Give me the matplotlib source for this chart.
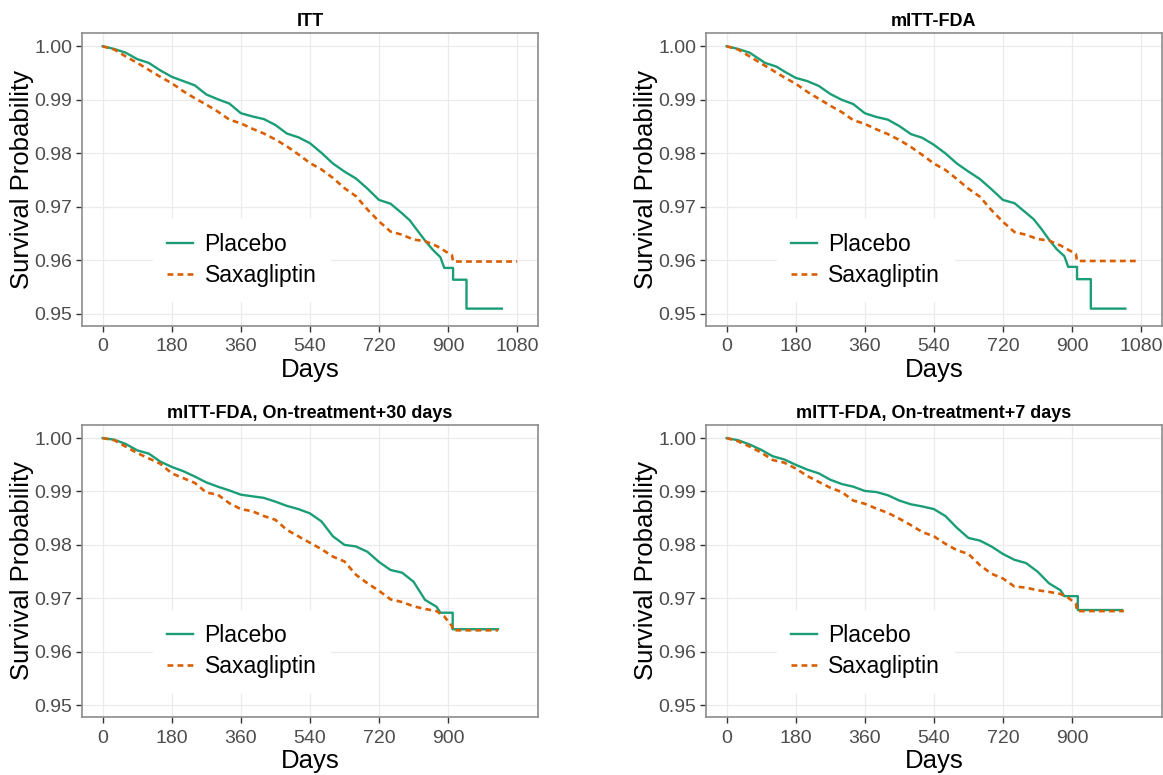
import numpy as np
import matplotlib.pyplot as plt

plt.rcParams['font.family'] = ['Liberation Sans', 'DejaVu Sans']

# Kaplan-Meier estimates (day, survival)
itt_pbo_days = [0, 30, 60, 90, 120, 150, 180, 210, 240, 270, 300, 330, 360, 390, 420, 450, 480, 510, 540,
                570, 600, 630, 660, 690, 720, 750, 780, 800, 820, 840, 860, 880, 890, 913, 913, 948, 948, 1040]
itt_pbo_surv = [1.0, 0.9995, 0.9988, 0.9976, 0.9969, 0.9955, 0.9943, 0.9935, 0.9927, 0.9910, 0.9901, 0.9893,
                0.9875, 0.9869, 0.9864, 0.9853, 0.9837, 0.9830, 0.9819, 0.9801, 0.9781, 0.9766, 0.9753, 0.9734,
                0.9713, 0.9706, 0.9688, 0.9675, 0.9656, 0.9637, 0.9620, 0.9606, 0.9586, 0.9586, 0.9564, 0.9564,
                0.9510, 0.9510]
itt_saxa_days = [0, 30, 60, 90, 120, 150, 180, 210, 240, 270, 300, 330, 360, 390, 420, 450, 480, 510, 540,
                 570, 600, 630, 660, 690, 720, 750, 780, 810, 840, 870, 900, 910, 913, 1080]
itt_saxa_surv = [1.0, 0.9994, 0.9981, 0.9969, 0.9956, 0.9943, 0.9931, 0.9916, 0.9903, 0.9891, 0.9878, 0.9863,
                 0.9856, 0.9846, 0.9837, 0.9826, 0.9813, 0.9798, 0.9782, 0.9770, 0.9754, 0.9735, 0.9720, 0.9695,
                 0.9673, 0.9654, 0.9648, 0.9639, 0.9636, 0.9627, 0.9614, 0.9610, 0.9598, 0.9598]

mitt_pbo_days = [0, 30, 60, 100, 130, 150, 180, 210, 240, 270, 300, 330, 360, 390, 420, 450, 480, 510, 540,
                 570, 600, 630, 660, 690, 720, 750, 780, 800, 820, 840, 860, 880, 890, 913, 913, 949, 949, 1039]
mitt_pbo_surv = [1.0, 0.9995, 0.9988, 0.9969, 0.9962, 0.9953, 0.9941, 0.9935, 0.9926, 0.9911, 0.9900, 0.9892,
                 0.9875, 0.9868, 0.9863, 0.9851, 0.9836, 0.9829, 0.9816, 0.9800, 0.9781, 0.9766, 0.9752, 0.9733,
                 0.9713, 0.9707, 0.9689, 0.9677, 0.9659, 0.9639, 0.9621, 0.9608, 0.9588, 0.9588, 0.9565, 0.9565,
                 0.9510, 0.9510]
mitt_saxa_days = [0, 30, 60, 90, 120, 150, 180, 210, 240, 270, 300, 330, 360, 390, 420, 450, 480, 510, 540,
                  570, 600, 630, 660, 690, 720, 750, 780, 810, 840, 870, 900, 910, 913, 1075]
mitt_saxa_surv = [1.0, 0.9994, 0.9981, 0.9968, 0.9955, 0.9942, 0.9930, 0.9915, 0.9902, 0.9889, 0.9877, 0.9862,
                  0.9855, 0.9845, 0.9836, 0.9825, 0.9812, 0.9797, 0.9781, 0.9769, 0.9752, 0.9734, 0.9719, 0.9694,
                  0.9672, 0.9653, 0.9648, 0.9640, 0.9637, 0.9628, 0.9616, 0.9612, 0.9599, 0.9599]

ot30_pbo_days = [0, 30, 60, 90, 120, 150, 180, 210, 240, 270, 300, 330, 360, 390, 420, 450, 480, 510, 540,
                 570, 600, 630, 660, 690, 720, 750, 780, 810, 840, 870, 880, 912, 912, 1030]
ot30_pbo_surv = [1.0, 0.9997, 0.9989, 0.9977, 0.9971, 0.9956, 0.9946, 0.9938, 0.9928, 0.9917, 0.9909, 0.9902,
                 0.9894, 0.9891, 0.9888, 0.9881, 0.9873, 0.9867, 0.9859, 0.9844, 0.9816, 0.9800, 0.9797, 0.9787,
                 0.9768, 0.9753, 0.9748, 0.9731, 0.9697, 0.9684, 0.9673, 0.9673, 0.9642, 0.9642]
ot30_saxa_days = [0, 30, 60, 90, 120, 150, 180, 210, 240, 270, 300, 330, 360, 390, 420, 450, 480, 510, 540,
                  570, 600, 630, 660, 690, 720, 750, 780, 810, 840, 870, 890, 910, 912, 1030]
ot30_saxa_surv = [1.0, 0.9996, 0.9984, 0.9972, 0.9962, 0.9952, 0.9934, 0.9925, 0.9916, 0.9898, 0.9894, 0.9878,
                  0.9867, 0.9863, 0.9854, 0.9847, 0.9828, 0.9816, 0.9804, 0.9792, 0.9778, 0.9769, 0.9744, 0.9728,
                  0.9714, 0.9698, 0.9693, 0.9685, 0.9680, 0.9676, 0.9666, 0.9648, 0.9640, 0.9640]

ot7_pbo_days = [0, 30, 60, 90, 120, 150, 180, 210, 240, 270, 300, 330, 360, 390, 420, 450, 480, 510, 540,
                570, 600, 630, 660, 690, 720, 750, 780, 810, 840, 870, 880, 915, 915, 1030]
ot7_pbo_surv = [1.0, 0.9996, 0.9988, 0.9978, 0.9966, 0.9960, 0.9950, 0.9941, 0.9934, 0.9922, 0.9914, 0.9909,
                0.9901, 0.9899, 0.9893, 0.9883, 0.9876, 0.9872, 0.9867, 0.9854, 0.9832, 0.9813, 0.9808, 0.9797,
                0.9783, 0.9772, 0.9766, 0.9750, 0.9728, 0.9715, 0.9704, 0.9704, 0.9678, 0.9678]
ot7_saxa_days = [0, 30, 60, 90, 120, 150, 180, 210, 240, 270, 300, 330, 360, 390, 420, 450, 480, 510, 540,
                 570, 600, 630, 660, 690, 720, 750, 780, 810, 840, 870, 890, 910, 913, 1035]
ot7_saxa_surv = [1.0, 0.9994, 0.9984, 0.9973, 0.9959, 0.9954, 0.9943, 0.9929, 0.9918, 0.9907, 0.9899, 0.9883,
                 0.9877, 0.9868, 0.9860, 0.9849, 0.9837, 0.9824, 0.9816, 0.9802, 0.9790, 0.9783, 0.9762, 0.9746,
                 0.9737, 0.9722, 0.9720, 0.9715, 0.9712, 0.9708, 0.9701, 0.9690, 0.9676, 0.9676]

titles = ["ITT", "mITT-FDA", "mITT-FDA, On-treatment+30 days", "mITT-FDA, On-treatment+7 days"]
x_ticks_top = [0, 180, 360, 540, 720, 900, 1080]
x_ticks_bottom = [0, 180, 360, 540, 720, 900]
y_ticks = [0.95, 0.96, 0.97, 0.98, 0.99, 1.00]

panels = [
    (itt_pbo_days, itt_pbo_surv, itt_saxa_days, itt_saxa_surv, x_ticks_top),
    (mitt_pbo_days, mitt_pbo_surv, mitt_saxa_days, mitt_saxa_surv, x_ticks_top),
    (ot30_pbo_days, ot30_pbo_surv, ot30_saxa_days, ot30_saxa_surv, x_ticks_bottom),
    (ot7_pbo_days, ot7_pbo_surv, ot7_saxa_days, ot7_saxa_surv, x_ticks_bottom),
]

green = "#1B9E77"
orange = "#D95F02"

fig = plt.figure(figsize=(11.63, 7.75), dpi=100)
boxes = [
    [0.0705, 0.5794, 0.392, 0.378],
    [0.607, 0.5794, 0.392, 0.378],
    [0.0705, 0.0748, 0.392, 0.377],
    [0.607, 0.0748, 0.392, 0.377],
]

for box, title, (pd_, ps, sd, ss, xt) in zip(boxes, titles, panels):
    ax = fig.add_axes(box)
    ax.plot(pd_, ps, color=green, lw=1.7, label="Placebo")
    ax.plot(sd, ss, color=orange, lw=1.9, ls=(0, (2.2, 1.6)), label="Saxagliptin")
    ax.set_xlim(-54, 1134)
    ax.set_ylim(0.94776, 1.00248)
    ax.set_xticks(xt)
    ax.set_yticks(y_ticks)
    ax.set_yticklabels([f"{v:.2f}" for v in y_ticks])
    ax.grid(True, color="#EBEBEB", lw=0.9)
    ax.set_axisbelow(True)
    for s in ax.spines.values():
        s.set_color("#8C8C8C")
        s.set_linewidth(1.2)
    ax.tick_params(direction="out", length=4, width=1, color="#333333",
                   labelsize=14, labelcolor="#4D4D4D")
    ax.tick_params(axis="x", pad=5)
    ax.tick_params(axis="y", pad=3)
    ax.set_title(title, fontsize=13, fontweight="bold", pad=5)
    ax.set_xlabel("Days", fontsize=18.5, labelpad=2)
    ax.set_ylabel("Survival Probability", fontsize=18.5, labelpad=0)
    leg = ax.legend(loc="center", bbox_to_anchor=(0.35, 0.225), fontsize=16.5, frameon=True,
                    fancybox=False, edgecolor="white", framealpha=1, handlelength=1.15,
                    handletextpad=0.5, labelspacing=0.35, borderpad=0.6)

fig.savefig("out.png", dpi=100)
